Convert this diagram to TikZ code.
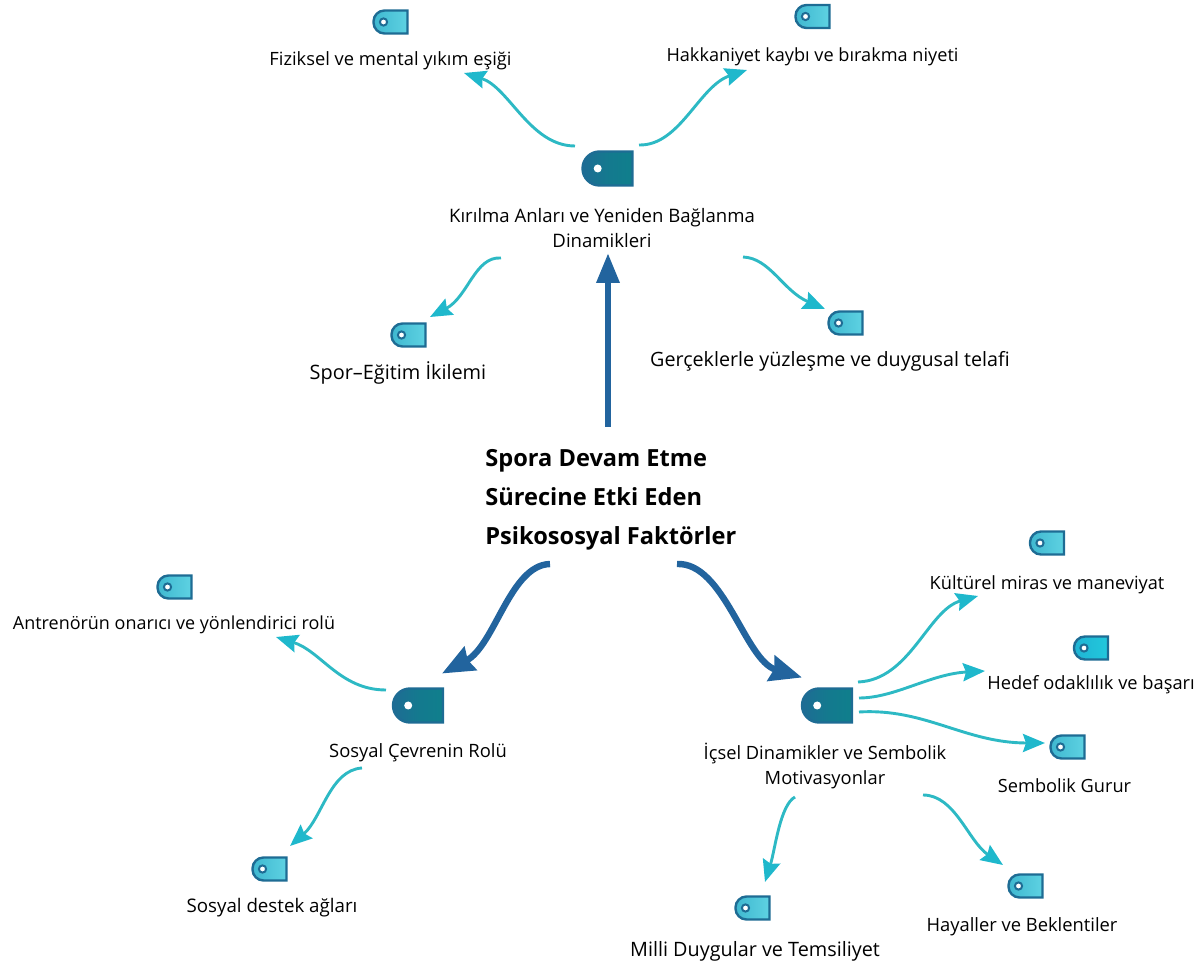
\documentclass[tikz,border=0pt]{standalone}
\usepackage{fontspec}
\setmainfont{Open Sans}
\usetikzlibrary{arrows.meta,calc}
\definecolor{tealline}{HTML}{2DB9C4}
\definecolor{tealhead}{HTML}{1FB8CC}
\definecolor{bluearrow}{HTML}{22649E}
\definecolor{tagedge}{HTML}{1E6C94}
\definecolor{hubfill}{HTML}{0F7F8C}
\definecolor{tagleft}{HTML}{3FB8D0}
\definecolor{tagright}{HTML}{5ED2E2}
\definecolor{brightleft}{HTML}{1FB4D4}
\definecolor{brightright}{HTML}{22C8DC}
\tikzset{
 lbl/.style={font=\fontsize{#1}{12.6}\selectfont,align=center,inner sep=0pt,text=black},
 title/.style={font=\fontsize{11.8}{19.5}\selectfont\bfseries,align=left,inner sep=0pt,text=black,anchor=west},
 conn/.style={draw=tealline,line width=1.45pt,-{Stealth[length=11pt,width=9pt,inset=1.5pt,color=tealhead]}},
 mainconn/.style={draw=bluearrow,line width=3.2pt,-{Stealth[length=16pt,width=13pt,inset=1.5pt]}},
 anchorbox/.style={inner sep=0pt,outer sep=0pt},
}
\newcommand\smalltag[5][tagleft]{%
 \node[anchorbox,minimum width=17pt,minimum height=11.5pt] (#3) at (#4,#5) {};
 \draw[draw=tagedge,line width=1.2pt,left color=#1,right color=#2]
   (#3.north east) -- (#3.south east) [rounded corners=5.5pt] -- (#3.south west) -- (#3.north west) [sharp corners] -- cycle;
 \draw[draw=tagedge,fill=white,line width=1pt] ([xshift=-3.5pt]#3.center) circle (1.8pt);
}
\newcommand\hubtag[3]{%
 \node[anchorbox,minimum width=25pt,minimum height=17pt] (#1) at (#2,#3) {};
 \draw[draw=tagedge,line width=1.2pt,left color=tagedge,right color=hubfill,middle color=hubfill!70!tagedge]
   (#1.north east) -- (#1.south east) [rounded corners=8.5pt] -- (#1.south west) -- (#1.north west) [sharp corners] -- cycle;
 \fill[white] ([xshift=-4.9pt]#1.center) circle (2pt);
}
\begin{document}
\begin{tikzpicture}[x=0.5pt,y=-0.5pt]
\useasboundingbox (0,0) rectangle (1200,967);
% hubs
\hubtag{hubtop}{607.5}{168.5}
\hubtag{hubleft}{418}{705.5}
\hubtag{hubright}{827}{705.5}
% small tags
\smalltag[tagleft]{tagright}{tFiz}{390.5}{22}
\smalltag[tagleft]{tagright}{tHak}{812.5}{16.5}
\smalltag[tagleft]{tagright}{tSpor}{408.5}{335}
\smalltag[tagleft]{tagright}{tGer}{845.5}{323}
\smalltag[tagleft]{tagright}{tAnt}{174.5}{587}
\smalltag[tagleft]{tagright}{tDes}{269.5}{869}
\smalltag[tagleft]{tagright}{tKul}{1047}{543}
\smalltag[brightleft]{brightright}{tHed}{1091}{648}
\smalltag[tagleft]{tagright}{tSem}{1067.5}{747}
\smalltag[tagleft]{tagright}{tHay}{1025.5}{886}
\smalltag[tagleft]{tagright}{tMil}{752.5}{908}
% labels
\node[lbl=9.15] (lFiz) at (390.5,61) {Fiziksel ve mental yıkım eşiği};
\node[lbl=9.07] (lHak) at (812.5,57) {Hakkaniyet kaybı ve bırakma niyeti};
\node[lbl=9.28] (lKir) at (602,228) {Kırılma Anları ve Yeniden Bağlanma\\Dinamikleri};
\node[lbl=9.94] (lSpor) at (398,373) {Spor–Eğitim İkilemi};
\node[lbl=9.86] (lGer) at (830,361.5) {Gerçeklerle yüzleşme ve duygusal telafi};
\node[title] (center) at (485,500) {Spora Devam Etme\\Sürecine Etki Eden\\Psikososyal Faktörler};
\node[lbl=8.98] (lAnt) at (174,625) {Antrenörün onarıcı ve yönlendirici rolü};
\node[lbl=9.2] (lSos) at (418,753) {Sosyal Çevrenin Rolü};
\node[lbl=9.36] (lDes) at (272,908) {Sosyal destek ağları};
\node[lbl=9.15] (lIc) at (825,766) {İçsel Dinamikler ve Sembolik\\Motivasyonlar};
\node[lbl=9.09] (lKul) at (1047,585) {Kültürel miras ve maneviyat};
\node[lbl=9.14] (lHed) at (1091,685) {Hedef odaklılık ve başarı};
\node[lbl=9.1] (lSem) at (1064.5,786) {Sembolik Gurur};
\node[lbl=9.18] (lHay) at (1022,927) {Hayaller ve Beklentiler};
\node[lbl=9.9] (lMil) at (755,951) {Milli Duygular ve Temsiliyet};
% main arrows
\draw[mainconn,-{Stealth[length=15pt,width=11pt,inset=0pt]}] ([shift={(123,-73)}]center.west) -- ([shift={(6,25)}]lKir.center);
\draw[mainconn] ([shift={(65,64)}]center.west) .. controls +(-40,1) and +(53,-28) .. ([shift={(24,-32)}]hubleft.center);
\draw[mainconn] ([shift={(192,64)}]center.west) .. controls +(47,-2) and +(-57,-17) .. ([shift={(-25,-28)}]hubright.center);
% thin arrows
\draw[conn] ([shift={(-32.5,-22.5)}]hubtop.center) .. controls +(-45,0) and +(45,14) .. ([shift={(73.5,12)}]lFiz.center);
\draw[conn] ([shift={(31.5,-23.5)}]hubtop.center) .. controls +(41,1) and +(-48,16) .. ([shift={(-65.5,13)}]lHak.center);
\draw[conn] ([shift={(-101,30)}]lKir.center) .. controls +(-26,-2) and +(38,-20) .. ([shift={(21.5,-18)}]tSpor.center);
\draw[conn] ([shift={(141,29)}]lKir.center) .. controls +(27,1) and +(-42,-18) .. ([shift={(-20.5,-14)}]tGer.center);
\draw[conn] ([shift={(-32,-15.5)}]hubleft.center) .. controls +(-46,0) and +(45,14) .. ([shift={(102,12)}]lAnt.center);
\draw[conn] ([shift={(-56,15)}]lSos.center) .. controls +(-32,2) and +(32,-28) .. ([shift={(20.5,-23)}]tDes.center);
\draw[conn] ([shift={(31,-23.5)}]hubright.center) .. controls +(52,-2) and +(-50,14) .. ([shift={(-69,11)}]lKul.center);
\draw[conn] ([shift={(32,-7.5)}]hubright.center) .. controls +(36,0) and +(-55,3) .. ([shift={(-106,-14)}]lHed.center);
\draw[conn] ([shift={(32,6.5)}]hubright.center) .. controls +(66,-4) and +(-80,0) .. ([shift={(-22.5,-4)}]tSem.center);
\draw[conn] ([shift={(-30,31)}]lIc.center) .. controls +(-15,8) and +(10,-32) .. ([shift={(12.5,-26)}]tMil.center);
\draw[conn] ([shift={(98,29)}]lIc.center) .. controls +(32,0) and +(-35,-24) .. ([shift={(-22.5,-21)}]tHay.center);
\end{tikzpicture}
\end{document}
